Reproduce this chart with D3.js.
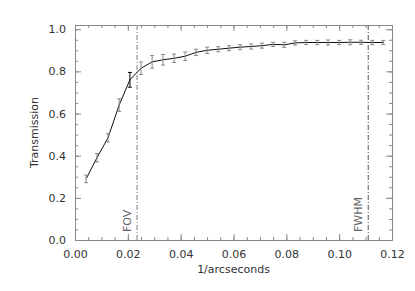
<!DOCTYPE html>
<html>
<head>
<meta charset="utf-8">
<script src="https://cdn.jsdelivr.net/npm/d3@7"></script>
<style>
  body { margin: 0; background: #fff; }
  text { font-family: "DejaVu Sans", sans-serif; }
</style>
</head>
<body>
<div id="vis"></div>
<script>
const freq = [0.0042, 0.0083, 0.0125, 0.0167, 0.0208, 0.025, 0.0292, 0.0333, 0.0375, 0.0417,
  0.0458, 0.05, 0.0542, 0.0583, 0.0625, 0.0667, 0.0708, 0.075, 0.0792, 0.0833,
  0.0875, 0.0917, 0.0958, 0.1, 0.1042, 0.1083, 0.1125, 0.1167];
const trans = [0.29, 0.39, 0.485, 0.64, 0.76, 0.815, 0.845, 0.855, 0.862, 0.872,
  0.89, 0.9, 0.905, 0.91, 0.915, 0.918, 0.922, 0.928, 0.926, 0.935,
  0.937, 0.937, 0.937, 0.937, 0.938, 0.938, 0.937, 0.937];
const errs = [0.018, 0.02, 0.02, 0.03, 0.035, 0.03, 0.03, 0.025, 0.02, 0.02,
  0.015, 0.015, 0.012, 0.012, 0.012, 0.012, 0.012, 0.01, 0.012, 0.01,
  0.01, 0.01, 0.012, 0.01, 0.012, 0.01, 0.01, 0.01];
const xTicks = [0, 0.02, 0.04, 0.06, 0.08, 0.10, 0.12];
const yTicks = [0, 0.2, 0.4, 0.6, 0.8, 1.0];
const markers = [{ x: 0.0235, label: "FOV" }, { x: 0.111, label: "FWHM" }];

const data = freq.map((f, i) => ({ x: f, y: trans[i], e: errs[i] }));

const W = 415, H = 291;
const margin = { top: 25, right: 23, bottom: 51, left: 75 };
const width = W - margin.left - margin.right,
      height = H - margin.top - margin.bottom;

const svg = d3.select("#vis").append("svg")
  .attr("width", W).attr("height", H);
const g = svg.append("g")
  .attr("transform", `translate(${margin.left},${margin.top})`);

const x = d3.scaleLinear().domain([0, 0.12]).range([0, width]);
const y = d3.scaleLinear().domain([0, 1.02]).range([height, 0]);

const axisColor = "#888";
const minorX = d3.range(0, 0.1201, 0.005);
const minorY = d3.range(0, 1.0001, 0.05);

// axes: bottom/top/left/right, ticks inside
const styleAxis = sel => {
  sel.select(".domain").attr("stroke", axisColor);
  sel.selectAll(".tick line").attr("stroke", axisColor);
  sel.selectAll("text").attr("fill", "#333").attr("font-size", 11);
};

g.append("g").attr("transform", `translate(0,${height})`)
  .call(d3.axisBottom(x).tickValues(minorX).tickSize(-3).tickFormat("").tickSizeOuter(0))
  .call(styleAxis);
g.append("g").attr("transform", `translate(0,${height})`)
  .call(d3.axisBottom(x).tickValues(xTicks).tickSize(-6).tickPadding(10).tickFormat(d3.format(".2f")).tickSizeOuter(0))
  .call(styleAxis);
g.append("g")
  .call(d3.axisTop(x).tickValues(minorX).tickSize(-3).tickFormat("").tickSizeOuter(0))
  .call(styleAxis);
g.append("g")
  .call(d3.axisTop(x).tickValues(xTicks).tickSize(-6).tickFormat("").tickSizeOuter(0))
  .call(styleAxis);
g.append("g")
  .call(d3.axisLeft(y).tickValues(minorY).tickSize(-3).tickFormat("").tickSizeOuter(0))
  .call(styleAxis);
g.append("g")
  .call(d3.axisLeft(y).tickValues(yTicks).tickSize(-6).tickPadding(9).tickFormat(d3.format(".1f")).tickSizeOuter(0))
  .call(styleAxis);
g.append("g").attr("transform", `translate(${width},0)`)
  .call(d3.axisRight(y).tickValues(minorY).tickSize(-3).tickFormat("").tickSizeOuter(0))
  .call(styleAxis);
g.append("g").attr("transform", `translate(${width},0)`)
  .call(d3.axisRight(y).tickValues(yTicks).tickSize(-6).tickFormat("").tickSizeOuter(0))
  .call(styleAxis);

// marker lines
markers.forEach((m, i) => {
  g.append("line")
    .attr("x1", x(m.x)).attr("x2", x(m.x))
    .attr("y1", 0).attr("y2", height)
    .attr("stroke", i === 0 ? "#aaa" : "#555")
    .attr("stroke-width", i === 0 ? 1.5 : 1)
    .attr("stroke-dasharray", "5,2,1,2");
  g.append("text")
    .attr("transform", `translate(${x(m.x) - 6},${height - 8}) rotate(-90)`)
    .attr("fill", "#666")
    .attr("font-size", 11)
    .text(m.label);
});

// curve
g.append("path")
  .datum(data)
  .attr("fill", "none")
  .attr("stroke", "#111")
  .attr("stroke-width", 1)
  .attr("d", d3.line().x(d => x(d.x)).y(d => y(d.y)));

// error bars
const eb = g.selectAll(".eb").data(data).join("g").attr("class", "eb")
  .attr("stroke", (d, i) => i === 4 ? "#000" : "#888");
eb.append("line")
  .attr("x1", d => x(d.x)).attr("x2", d => x(d.x))
  .attr("y1", d => y(d.y - d.e)).attr("y2", d => y(d.y + d.e));
eb.append("line")
  .attr("x1", d => x(d.x) - 2).attr("x2", d => x(d.x) + 2)
  .attr("y1", d => y(d.y - d.e)).attr("y2", d => y(d.y - d.e));
eb.append("line")
  .attr("x1", d => x(d.x) - 2).attr("x2", d => x(d.x) + 2)
  .attr("y1", d => y(d.y + d.e)).attr("y2", d => y(d.y + d.e));

// axis titles
svg.append("text")
  .attr("x", margin.left + width / 2).attr("y", 273)
  .attr("text-anchor", "middle").attr("font-size", 11).attr("fill", "#333")
  .text("1/arcseconds");
svg.append("text")
  .attr("transform", `translate(38,${margin.top + height / 2}) rotate(-90)`)
  .attr("text-anchor", "middle").attr("font-size", 11).attr("fill", "#333")
  .text("Transmission");
</script>
</body>
</html>
